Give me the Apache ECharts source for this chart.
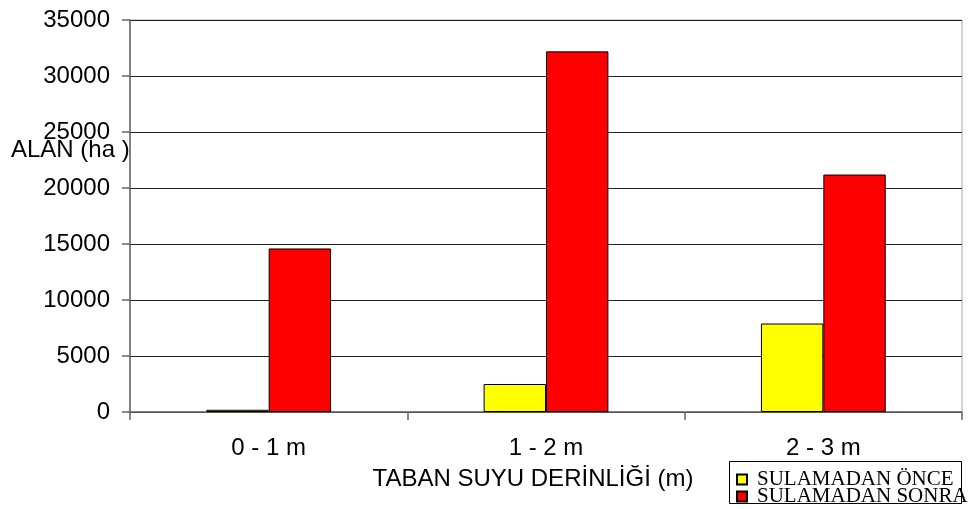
<!DOCTYPE html>
<html>
<head>
<meta charset="utf-8">
<script src="https://cdn.jsdelivr.net/npm/echarts@6/dist/echarts.min.js"></script>
<style>
  html, body { margin: 0; padding: 0; background: #fff; }
  #chart { width: 970px; height: 509px; }
</style>
</head>
<body>
<div id="chart"></div>
<script>
// Groundwater depth classes and irrigated area (ha) before / after irrigation
const categories = ['0 - 1 m', '1 - 2 m', '2 - 3 m'];
const seriesNames = ['SULAMADAN ÖNCE', 'SULAMADAN SONRA'];
const onceValues = [200, 2500, 7900];
const sonraValues = [14600, 32200, 21200];
const yTicks = { min: 0, max: 35000, interval: 5000 };
const yTitle = 'ALAN (ha )';
const xTitle = 'TABAN SUYU DERİNLİĞİ (m)';

const sans = 'Liberation Sans, Arial, sans-serif';
const serif = 'Liberation Serif, Times New Roman, serif';

const chart = echarts.init(document.getElementById('chart'));
chart.setOption({
  animation: false,
  backgroundColor: '#ffffff',
  grid: {
    left: 130, right: 8, top: 20, bottom: 97,
    show: true, borderColor: '#a8a8a8', borderWidth: 1, backgroundColor: 'transparent'
  },
  xAxis: {
    type: 'category',
    data: categories,
    boundaryGap: true,
    axisLine: { show: true, lineStyle: { color: '#666', width: 1.5 } },
    axisTick: { show: true, length: 8, alignWithLabel: false, lineStyle: { color: '#666', width: 1.5 } },
    axisLabel: { color: '#000', fontFamily: sans, fontSize: 24, margin: 24 },
    splitLine: { show: false }
  },
  yAxis: {
    type: 'value',
    min: yTicks.min, max: yTicks.max, interval: yTicks.interval,
    axisLine: { show: true, lineStyle: { color: '#666', width: 1.5 } },
    axisTick: { show: true, length: 8, lineStyle: { color: '#666', width: 1.5 } },
    axisLabel: { color: '#000', fontFamily: sans, fontSize: 24, margin: 20, formatter: v => String(v) },
    splitLine: { show: true, lineStyle: { color: '#222', width: 1 } }
  },
  legend: {
    orient: 'vertical',
    left: 736, top: 469,
    padding: 0,
    itemGap: -4,
    itemWidth: 10, itemHeight: 10,
    icon: 'rect',
    textStyle: { fontFamily: serif, fontSize: 21, color: '#000', lineHeight: 15, padding: [0, 0, 0, 5] },
    data: seriesNames
  },
  graphic: [
    {
      type: 'rect',
      shape: { x: 729.5, y: 461.5, width: 232, height: 42 },
      style: { fill: 'transparent', stroke: '#000', lineWidth: 1 },
      z: 0
    },
    {
      type: 'text',
      style: { x: 11, y: 150, text: yTitle, fontFamily: sans, fontSize: 24, fill: '#000', verticalAlign: 'middle' }
    },
    {
      type: 'text',
      style: { x: 533, y: 479, text: xTitle, fontFamily: sans, fontSize: 24, fill: '#000', align: 'center', verticalAlign: 'middle' }
    }
  ],
  series: [
    {
      name: seriesNames[0],
      type: 'bar',
      data: onceValues,
      barGap: '0%',
      barCategoryGap: '55%',
      itemStyle: { color: '#ffff00', borderColor: '#000', borderWidth: 1 }
    },
    {
      name: seriesNames[1],
      type: 'bar',
      data: sonraValues,
      barGap: '0%',
      barCategoryGap: '55%',
      itemStyle: { color: '#ff0000', borderColor: '#000', borderWidth: 1 }
    }
  ]
});
</script>
</body>
</html>
